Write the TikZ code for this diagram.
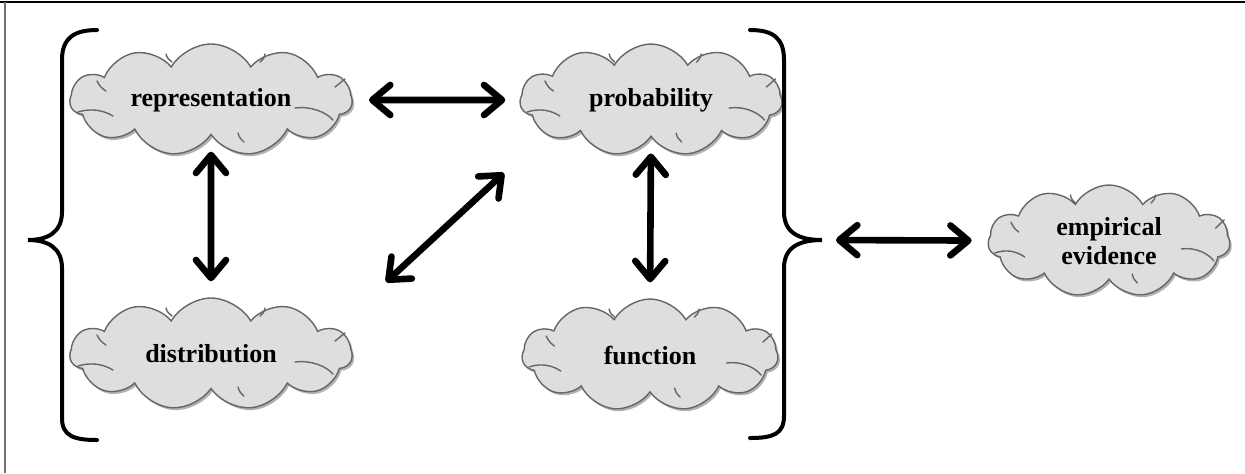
\documentclass[tikz,border=0pt]{standalone}
\usepackage{fontspec}
\setmainfont{Liberation Serif}
\usetikzlibrary{shapes.symbols,arrows.meta,shadows}

\tikzset{
  x=0.5pt, y=-0.5pt,
  idea/.style={cloud, cloud puffs=11, cloud puff arc=120, cloud ignores aspect,
    draw=black!60, line width=0.7pt, fill=black!13,
    minimum width=141pt, minimum height=56pt, inner sep=0pt,
    align=center, font=\fontsize{13}{14.5}\selectfont\bfseries,
    drop shadow={shadow xshift=1pt, shadow yshift=-1.2pt, fill=black, opacity=0.3}},
  crease/.style={draw=black!60, line width=0.7pt, line cap=round},
  barbtip/.tip={Straight Barb[length=9pt, width=15pt, line cap=round, line join=round]},
  link/.style={line width=3.3pt, line cap=round, barbtip-barbtip},
  bracket/.style={line width=2pt, line cap=round}
}

% small inner creases of a cloud, placed around its centre
\newcommand\cloudcreases[2]{%
  \begin{scope}[shift={(#1.center)}, xscale=#2]
    \draw[crease] (-133,12) .. controls (-120,8) and (-108,10) .. (-98,16);
    \draw[crease] (-114,-19) .. controls (-112,-15) and (-110,-12) .. (-105,-9);
    \draw[crease] (-45,-46) .. controls (-44,-42) and (-42,-40) .. (-39,-38);
    \draw[crease] (54,-46) .. controls (53,-42) and (52,-40) .. (49,-38);
    \draw[crease] (134,-21) .. controls (130,-18) and (128,-16) .. (124,-13);
    \draw[crease] (84,8) .. controls (100,6) and (115,12) .. (122,20);
    \draw[crease] (27,33) .. controls (28,37) and (30,40) .. (33,42);
  \end{scope}}

\begin{document}
\begin{tikzpicture}
\useasboundingbox (0,0) rectangle (1245,473);
% partial frame
\draw[line width=0.8pt] (0,2) -- (1245,2);
\draw[black!55, line width=0.8pt] (5,2) -- (5,473);

% concept clouds
\node[idea] (rep)  at (211,100) {representation};
\node[idea, minimum width=131pt] (prob) at (651,100) {probability};
\node[idea] (dist) at (211,354) {distribution};
\node[idea, minimum width=128pt] (func) at (650,355) {function};
\node[idea, minimum width=121pt] (emp) at (1109,241) {empirical\\evidence};
\cloudcreases{rep}{1}
\cloudcreases{prob}{0.93}
\cloudcreases{dist}{1}
\cloudcreases{func}{0.91}
\cloudcreases{emp}{0.86}

% braces grouping the four concepts
\draw[bracket] (97,30) .. controls (74,30) and (62,38) .. (62,60) -- (62,212)
  .. controls (62,232) and (48,240) .. (28,240)
  .. controls (48,240) and (62,248) .. (62,268) -- (62,418)
  .. controls (62,436) and (74,440) .. (97,440);
\coordinate (tip) at (822,240);
\draw[bracket] (750,30) .. controls (773,30) and (784,38) .. (784,60) -- (784,212)
  .. controls (784,232) and (798,240) .. (tip)
  .. controls (798,240) and (784,248) .. (784,268) -- (784,416)
  .. controls (784,434) and (773,438) .. (750,438);

% links
\coordinate (dA) at (386,282);
\coordinate (dB) at (504,173);
\draw[link, shorten <=8pt, shorten >=7pt] (rep) -- (prob);
\draw[link, shorten <=8pt, shorten >=8pt] (rep) -- (dist);
\draw[link, shorten <=8pt, shorten >=8pt] (prob.south) -- (func.north);
\draw[link] (dA) -- (dB);
\draw[link, shorten <=7pt, shorten >=8pt] (tip) -- (emp);
\end{tikzpicture}
\end{document}
